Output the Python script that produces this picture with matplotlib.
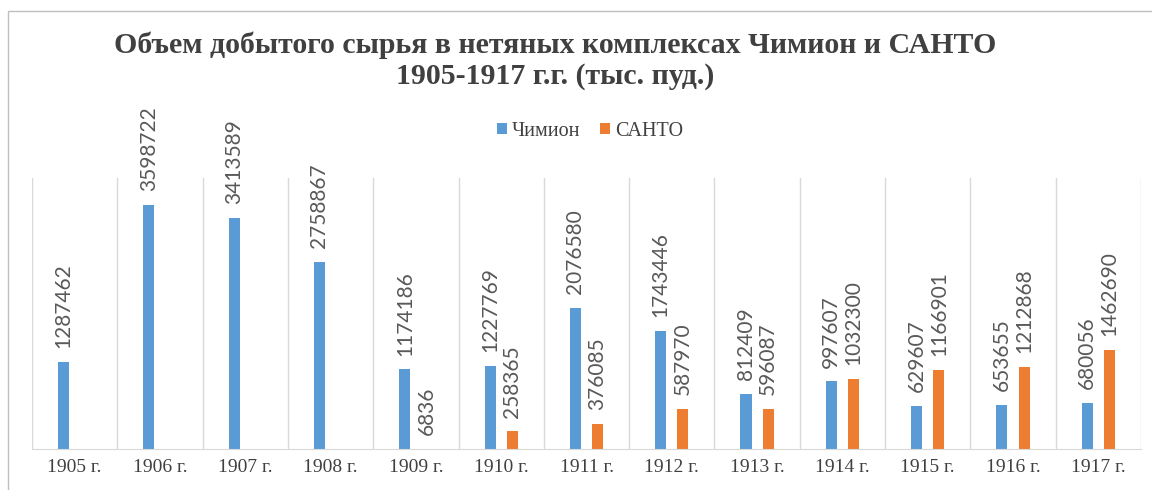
import numpy as np
import matplotlib
matplotlib.use("Agg")
import matplotlib.pyplot as plt
from matplotlib.patches import Rectangle

years = ["1905 г.", "1906 г.", "1907 г.", "1908 г.", "1909 г.", "1910 г.", "1911 г.",
         "1912 г.", "1913 г.", "1914 г.", "1915 г.", "1916 г.", "1917 г."]
chimion = [1287462, 3598722, 3413589, 2758867, 1174186, 1227769, 2076580,
           1743446, 812409, 997607, 629607, 653655, 680056]
santo = [None, None, None, None, 6836, 258365, 376085,
         587970, 596087, 1032300, 1166901, 1212868, 1462690]

blue = "#5B9BD5"
orange = "#ED7D31"
serif = "Liberation Serif"
label_font = "Lato"

fig = plt.figure(figsize=(11.52, 4.9), dpi=100)
# chart frame, its right and bottom edges fall outside the picture
fig.patches.append(Rectangle((8 / 1152, -0.05), 1.1, 1.05 - 11 / 490,
                             transform=fig.transFigure, fill=False,
                             edgecolor="#BFBFBF", linewidth=1))

ax = fig.add_axes([32 / 1152, 1 - 449 / 490, 1109 / 1152, 271 / 490])

x = np.arange(len(years))
w = 0.13
off = 0.13

bars1 = ax.bar(x - off, chimion, width=w, color=blue, label="Чимион")
sx = [i for i, v in enumerate(santo) if v is not None]
sv = [v for v in santo if v is not None]
bars2 = ax.bar(np.array(sx) + off, sv, width=w, color=orange, label="САНТО")

for bars, vals in ((bars1, chimion), (bars2, sv)):
    for b, v in zip(bars, vals):
        ax.annotate(str(v), (b.get_x() + b.get_width() / 2, v),
                    xytext=(0, 10), textcoords="offset points",
                    rotation=90, ha="center", va="bottom",
                    fontsize=15, color="#595959", family=label_font)

ax.set_xlim(-0.5, len(years) - 0.5)
ax.set_ylim(0, 4000000)
for b in np.arange(-0.5, len(years), 1.0):
    ax.axvline(b, color="#D9D9D9", linewidth=1, zorder=0)

for s in ["top", "left", "right"]:
    ax.spines[s].set_visible(False)
ax.spines["bottom"].set_color("#D9D9D9")
ax.set_yticks([])
ax.set_xticks(x)
ax.set_xticklabels(years, family=serif, fontsize=14, color="#404040")
ax.tick_params(axis="x", length=0, pad=7)

fig.text(0.482, 1 - 45 / 490,
         "Объем добытого сырья в нетяных комплексах Чимион и САНТО",
         ha="center", va="center", family=serif, fontsize=21.5,
         fontweight="bold", color="#404040")
fig.text(0.482, 1 - 77 / 490, "1905-1917 г.г. (тыс. пуд.)",
         ha="center", va="center", family=serif, fontsize=21.5,
         fontweight="bold", color="#404040")

fig.legend(loc="center", bbox_to_anchor=(590 / 1152, 1 - 131 / 490), ncol=2,
           frameon=False, prop={"family": serif, "size": 14.5},
           handlelength=0.5, handleheight=0.5, handletextpad=0.25,
           columnspacing=1.0, labelcolor="#404040")

fig.savefig("out.png", dpi=100)
